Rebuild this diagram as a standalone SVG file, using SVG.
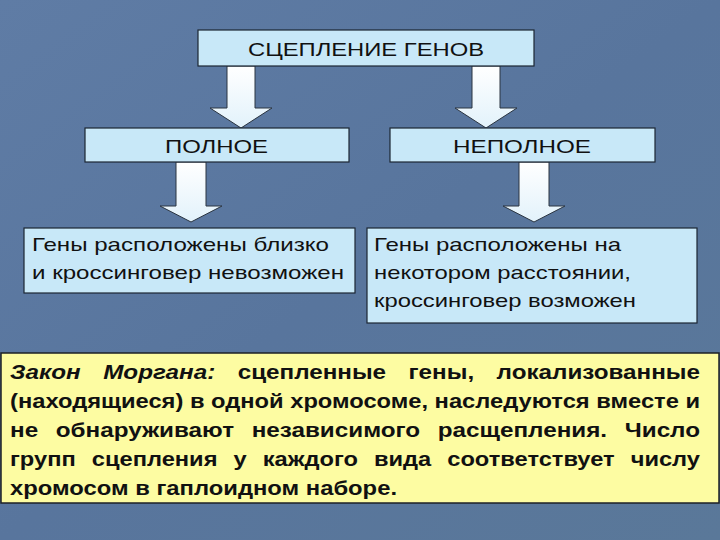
<svg xmlns="http://www.w3.org/2000/svg" width="720" height="540" viewBox="0 0 720 540">
<defs>
<linearGradient id="bg" x1="0" y1="0" x2="1" y2="1">
<stop offset="0" stop-color="#5f7ca5"/>
<stop offset="0.5" stop-color="#58759d"/>
<stop offset="1" stop-color="#5a7899"/>
</linearGradient>
<linearGradient id="arr" x1="0" y1="0" x2="0" y2="1">
<stop offset="0" stop-color="#ffffff"/>
<stop offset="1" stop-color="#e2f2fb"/>
</linearGradient>
</defs>
<style>
.box{fill:#c8e8f8;stroke:#1c2633;stroke-width:1.2}
.law{fill:#fdfca2;stroke:#1c2026;stroke-width:1.5}
.arrow{fill:url(#arr);stroke:#2a3440;stroke-width:1}
.t{font-family:"Liberation Sans",Arial,sans-serif;font-size:19px;fill:#111}
.b{font-family:"Liberation Sans",Arial,sans-serif;font-size:20px;font-weight:bold;fill:#111}
.i{font-style:italic}
</style>
<rect x="0" y="0" width="720" height="540" fill="url(#bg)"/>
<g id="connectors">
<polygon class="arrow" points="227,66 255,66 255,108 272,108 241,128 210,108 227,108"/>
<polygon class="arrow" points="472,66 500,66 500,108 517,108 486,128 455,108 472,108"/>
<polygon class="arrow" points="176,162 206,162 206,206 222,206 191,222 160,206 176,206"/>
<polygon class="arrow" points="519,162 549,162 549,206 565,206 534,222 503,206 519,206"/>
</g>
<g id="top">
<rect class="box" x="198" y="30" width="336" height="36"/>
<text class="t" x="248" y="56" textLength="236" lengthAdjust="spacingAndGlyphs">СЦЕПЛЕНИЕ ГЕНОВ</text>
</g>
<g id="full">
<rect class="box" x="85" y="128" width="264" height="34"/>
<text class="t" x="165" y="153" textLength="103" lengthAdjust="spacingAndGlyphs">ПОЛНОЕ</text>
</g>
<g id="partial">
<rect class="box" x="390" y="128" width="265" height="34"/>
<text class="t" x="453" y="153" textLength="138" lengthAdjust="spacingAndGlyphs">НЕПОЛНОЕ</text>
</g>
<g id="full-desc">
<rect class="box" x="24" y="228" width="331" height="65"/>
<text class="t" x="32" y="251" textLength="297" lengthAdjust="spacingAndGlyphs">Гены расположены близко</text>
<text class="t" x="32" y="279" textLength="312" lengthAdjust="spacingAndGlyphs">и кроссинговер невозможен</text>
</g>
<g id="partial-desc">
<rect class="box" x="367" y="228" width="330" height="95"/>
<text class="t" x="374" y="251" textLength="247" lengthAdjust="spacingAndGlyphs">Гены расположены на</text>
<text class="t" x="374" y="279" textLength="257" lengthAdjust="spacingAndGlyphs">некотором расстоянии,</text>
<text class="t" x="374" y="307" textLength="262" lengthAdjust="spacingAndGlyphs">кроссинговер возможен</text>
</g>
<g id="law">
<rect class="law" x="1" y="353" width="718" height="150"/>
<text class="b" x="10" y="379" textLength="690" lengthAdjust="spacingAndGlyphs" word-spacing="13"><tspan class="i">Закон Моргана:</tspan> сцепленные гены, локализованные</text>
<text class="b" x="10" y="408" textLength="690" lengthAdjust="spacingAndGlyphs">(находящиеся) в одной хромосоме, наследуются вместе и</text>
<text class="b" x="10" y="437" textLength="690" lengthAdjust="spacingAndGlyphs" word-spacing="9">не обнаруживают независимого расщепления. Число</text>
<text class="b" x="10" y="466" textLength="690" lengthAdjust="spacingAndGlyphs" word-spacing="8">групп сцепления у каждого вида соответствует числу</text>
<text class="b" x="10" y="495" textLength="387" lengthAdjust="spacingAndGlyphs">хромосом в гаплоидном наборе.</text>
</g>
</svg>
